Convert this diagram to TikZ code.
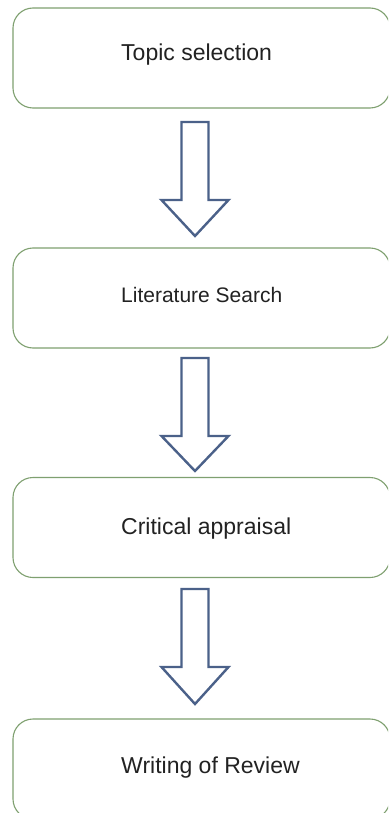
\documentclass[tikz,border=0pt]{standalone}
\usepackage{fontspec}
\setmainfont{Liberation Sans}
\usetikzlibrary{calc}
\definecolor{boxgreen}{HTML}{7FA070}
\definecolor{arrowblue}{HTML}{4B6189}
\definecolor{inkgray}{HTML}{222222}
\tikzset{
  stepbox/.style={draw=boxgreen, line width=1.1pt, rounded corners=20pt,
    minimum width=377pt, minimum height=100pt, inner sep=0pt, fill=white},
  steptext/.style={anchor=west, inner sep=0pt, text=inkgray,
    font=\fontsize{23}{27}\selectfont},
  flowarrow/.style={draw=arrowblue, line width=2.4pt, fill=white, line join=miter}
}
% hollow block arrow: #1 = shaft top y, #2 = tip y
\newcommand{\blockarrow}[2]{%
  \draw[flowarrow] (181.5,#1) -- (181.5,#1+78) -- (161.5,#1+78) -- (195,#2)
    -- (228.5,#1+78) -- (208.5,#1+78) -- (208.5,#1) -- cycle;}
\begin{document}
\begin{tikzpicture}[x=1pt, y=-1pt]
  \useasboundingbox (0,0) rectangle (388,813);
  \clip (0,0) rectangle (388,813);
  \fill[white] (0,0) rectangle (388,813);

  % process steps
  \node[stepbox] (b1) at (201.5,58) {};
  \node[stepbox] (b2) at (201.5,298) {};
  \node[stepbox] (b3) at (201.5,527.5) {};
  \node[stepbox] (b4) at (201.5,769) {};

  \node[steptext] (t1) at (121,55) {Topic selection};
  \node[steptext, font=\fontsize{21}{25}\selectfont] (t2) at (121,295) {Literature Search};
  \node[steptext] (t3) at (121,529) {Critical appraisal};
  \node[steptext] (t4) at (121,768) {Writing of Review};

  % block arrows between the steps
  \blockarrow{122}{236}
  \blockarrow{358}{471}
  \blockarrow{589}{704}
\end{tikzpicture}
\end{document}
